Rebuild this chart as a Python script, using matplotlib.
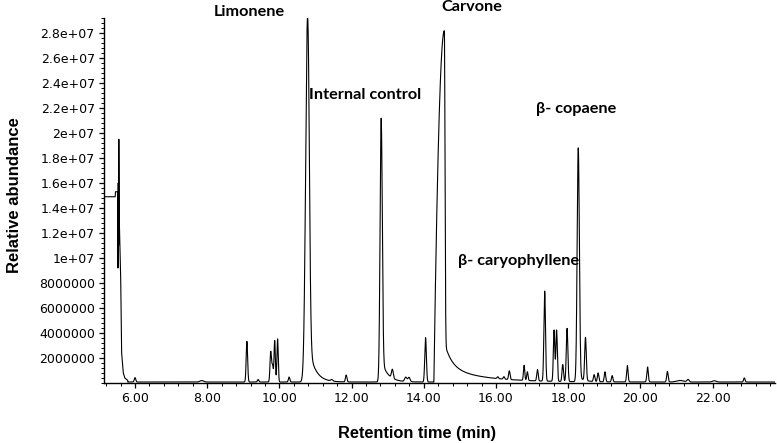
import numpy as np
import matplotlib
matplotlib.use("Agg")
import matplotlib.pyplot as plt
from matplotlib.ticker import FixedLocator, MultipleLocator

# ---------------- data ----------------
# solvent front (explicit trace points), time in min, abundance
solvent_t = [5.14, 5.45, 5.46, 5.52, 5.53, 5.535, 5.545, 5.552, 5.558, 5.565,
             5.604, 5.63, 5.676, 5.72, 5.80]
solvent_y = [14.9e6, 14.9e6, 15.3e6, 15.3e6, 9.2e6, 16.0e6, 11.0e6, 19.5e6,
             17.0e6, 13.0e6, 8.3e6, 2.4e6, 0.8e6, 0.4e6, 0.2e6]

# peak table: retention time, height, left width, right width, left profile
# (profile 2 = gaussian side, 0 = parabolic front of given half-width)
peak_times = [6.00, 7.85, 9.10, 9.41, 9.76, 9.81, 9.87, 9.95, 10.27, 10.78,
              11.45, 11.85, 12.82, 13.13, 13.50, 13.59, 14.05, 14.57,
              16.05, 16.22, 16.37, 16.78, 16.87, 17.15, 17.35, 17.61, 17.68,
              17.85, 17.97, 18.28, 18.48, 18.72, 18.83, 19.02, 19.22, 19.64,
              20.20, 20.75, 21.10, 21.32, 22.05, 22.88]
peak_heights = [0.35e6, 0.12e6, 3.25e6, 0.2e6, 2.4e6, 1.3e6, 3.3e6, 3.45e6,
                0.4e6, 29.2e6, 0.12e6, 0.55e6, 21.1e6, 0.7e6, 0.35e6, 0.35e6,
                3.55e6, 28.1e6,
                0.15e6, 0.2e6, 0.7e6, 1.2e6, 0.7e6, 0.9e6, 7.2e6, 4.1e6, 4.1e6,
                1.35e6, 4.25e6, 18.7e6, 3.45e6, 0.55e6, 0.7e6, 0.8e6, 0.5e6,
                1.3e6, 1.2e6, 0.85e6, 0.12e6, 0.2e6, 0.1e6, 0.33e6]
peak_sig_l = [0.02, 0.05, 0.02, 0.02, 0.02, 0.02, 0.018, 0.018, 0.02, 0.052,
              0.03, 0.02, 0.03, 0.025, 0.03, 0.03, 0.022, 0.29,
              0.02, 0.02, 0.02, 0.018, 0.018, 0.02, 0.022, 0.02, 0.02,
              0.02, 0.022, 0.03, 0.022, 0.02, 0.02, 0.02, 0.02, 0.02,
              0.02, 0.02, 0.1, 0.03, 0.05, 0.02]
peak_sig_r = [0.02, 0.05, 0.02, 0.02, 0.02, 0.02, 0.018, 0.018, 0.02, 0.045,
              0.03, 0.02, 0.03, 0.025, 0.03, 0.03, 0.022, 0.018,
              0.02, 0.02, 0.02, 0.018, 0.018, 0.02, 0.022, 0.02, 0.02,
              0.02, 0.022, 0.03, 0.022, 0.02, 0.02, 0.02, 0.02, 0.02,
              0.02, 0.02, 0.1, 0.03, 0.05, 0.02]
peak_shape_l = [2, 2, 2, 2, 2, 2, 2, 2, 2, 2,
                2, 2, 2, 2, 2, 2, 2, 0,
                2, 2, 2, 2, 2, 2, 2, 2, 2,
                2, 2, 2, 2, 2, 2, 2, 2, 2,
                2, 2, 2, 2, 2, 2]

# tailing components: start time, amplitude, decay constant
tail_times = [10.78, 12.82, 14.57, 14.57, 18.28]
tail_amps = [3.4e6, 1.8e6, 2.0e6, 1.2e6, 0.4e6]
tail_taus = [0.18, 0.18, 0.20, 1.0, 0.15]
baseline = 0.08e6

y_ticks = [2e6, 4e6, 6e6, 8e6, 10e6, 12e6, 14e6, 16e6, 18e6, 20e6, 22e6,
           24e6, 26e6, 28e6]
y_tick_labels = ["2000000", "4000000", "6000000", "8000000", "1e+07",
                 "1.2e+07", "1.4e+07", "1.6e+07", "1.8e+07", "2e+07",
                 "2.2e+07", "2.4e+07", "2.6e+07", "2.8e+07"]
x_ticks = [6, 8, 10, 12, 14, 16, 18, 20, 22]
x_tick_labels = ["6.00", "8.00", "10.00", "12.00", "14.00", "16.00",
                 "18.00", "20.00", "22.00"]

annot_text = ["Limonene", "Internal control", "Carvone", "\u03b2- copaene",
              "\u03b2- caryophyllene"]
annot_x = [9.18, 12.37, 15.33, 18.21, 16.64]
annot_y = [29.7e6, 23.06e6, 30.1e6, 21.9e6, 9.8e6]

# ---------------- build trace ----------------
t = np.linspace(5.80, 23.73, 14000)
sig = np.full_like(t, baseline)
for tp, h, sl, sr, pl in zip(peak_times, peak_heights, peak_sig_l,
                             peak_sig_r, peak_shape_l):
    d = t - tp
    right = h * np.exp(-0.5 * (d / sr) ** 2)
    if pl == 0:
        left = h * np.clip(1 - (d / sl) ** 2, 0, None)
    else:
        left = h * np.exp(-0.5 * (d / sl) ** 2)
    sig += np.where(d < 0, left, right)
for tt, a, tau in zip(tail_times, tail_amps, tail_taus):
    d = np.clip(t - tt, 0, None)
    sig += a * np.exp(-d / tau) * (1 - np.exp(-(d / 0.03) ** 2))

full_t = np.concatenate([solvent_t, t])
full_y = np.concatenate([solvent_y, sig])

# ---------------- figure ----------------
fig = plt.figure(figsize=(7.77, 4.43), dpi=100)
ax = fig.add_axes([0.1338, 0.1354, 0.8636, 0.824])
ax.plot(full_t, full_y, color="black", lw=0.8)

ax.set_xlim(5.14, 23.73)
ax.set_ylim(0, 29.2e6)
for sp in ["top", "right"]:
    ax.spines[sp].set_visible(False)
for sp in ["left", "bottom"]:
    ax.spines[sp].set_linewidth(1.0)

ax.xaxis.set_major_locator(FixedLocator(x_ticks))
ax.set_xticklabels(x_tick_labels)
ax.xaxis.set_minor_locator(MultipleLocator(0.4))
ax.yaxis.set_major_locator(FixedLocator(y_ticks))
ax.set_yticklabels(y_tick_labels)
ax.yaxis.set_minor_locator(MultipleLocator(0.4e6))

ax.tick_params(axis="both", which="major", length=3.6, width=0.9,
               labelsize=9, pad=3)
ax.tick_params(axis="both", which="minor", length=2.0, width=0.7)
for lab in ax.get_xticklabels() + ax.get_yticklabels():
    lab.set_family("DejaVu Sans")

ax.set_xlabel("Retention time (min)", fontsize=11.8, fontweight="bold",
              family="Liberation Sans")
ax.set_ylabel("Relative abundance", fontsize=12, fontweight="bold",
              family="Liberation Sans")
ax.xaxis.set_label_coords(0.466, -0.118)
ax.yaxis.set_label_coords(-0.122, 0.515)

for txt, xx, yy in zip(annot_text, annot_x, annot_y):
    ax.text(xx, yy, txt, fontsize=11.7, fontweight="bold", family="Lato",
            ha="center", va="center", clip_on=False)

fig.savefig("out.png", dpi=100)
